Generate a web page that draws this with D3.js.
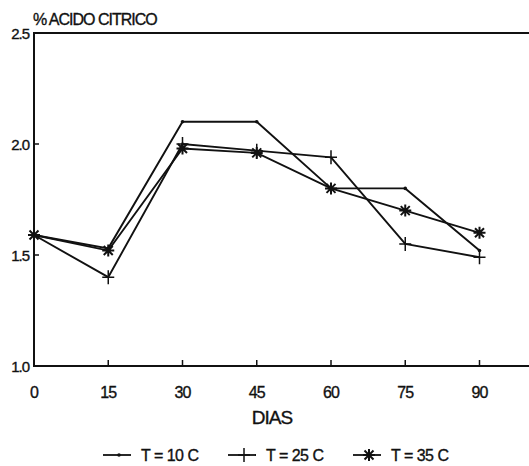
<!DOCTYPE html>
<html>
<head>
<meta charset="utf-8">
<script src="https://cdn.jsdelivr.net/npm/d3@7"></script>
<style>
  body { margin: 0; background: #fff; }
  text { font-family: "Liberation Sans", Arial, sans-serif; fill: #111; stroke: #111; stroke-width: 0.35px; }
</style>
</head>
<body>
<script>
// days and citric acid % per temperature
var dias = [0, 15, 30, 45, 60, 75, 90];
var t10 = [1.59, 1.53, 2.10, 2.10, 1.80, 1.80, 1.52];
var t25 = [1.59, 1.40, 2.00, 1.97, 1.94, 1.55, 1.49];
var t35 = [1.59, 1.52, 1.98, 1.96, 1.80, 1.70, 1.60];
var yTicks = [1.0, 1.5, 2.0, 2.5];
var series = [
    {name: "T = 10 C", values: t10, mark: "dot"},
    {name: "T = 25 C", values: t25, mark: "plus"},
    {name: "T = 35 C", values: t35, mark: "star"}
];

var W = 529, H = 466;
var svg = d3.select("body").append("svg")
    .attr("width", W).attr("height", H);

var x = d3.scaleLinear().domain([0, 100]).range([34, 529]);
var y = d3.scaleLinear().domain([1.0, 2.5]).range([366, 33]);

var ink = "#111";

// frame: left, top, bottom
svg.append("path")
    .attr("d", "M" + x(100) + "," + y(2.5) + "H" + x(0) + "V" + y(1.0) + "H" + x(100))
    .attr("fill", "none").attr("stroke", ink).attr("stroke-width", 2);

// y ticks point inward
svg.selectAll(".yt").data(yTicks).enter().append("line")
    .attr("x1", x(0)).attr("x2", x(0) + 5)
    .attr("y1", function (d) { return y(d); })
    .attr("y2", function (d) { return y(d); })
    .attr("stroke", ink).attr("stroke-width", 1.5);
svg.selectAll(".yl").data(yTicks).enter().append("text")
    .attr("x", x(0) - 5)
    .attr("y", function (d) { return y(d) + 6; })
    .attr("text-anchor", "end")
    .style("font-size", "15px")
    .style("letter-spacing", "-1px")
    .text(function (d) { return d.toFixed(1); });

// x ticks point up
svg.selectAll(".xt").data(dias).enter().append("line")
    .attr("x1", function (d) { return x(d); })
    .attr("x2", function (d) { return x(d); })
    .attr("y1", y(1.0)).attr("y2", y(1.0) - 6)
    .attr("stroke", ink).attr("stroke-width", 1.5);
svg.selectAll(".xl").data(dias).enter().append("text")
    .attr("x", function (d) { return x(d); })
    .attr("y", 398)
    .attr("text-anchor", "middle")
    .style("font-size", "16px")
    .style("letter-spacing", "-1px")
    .text(function (d) { return d; });

svg.append("text")
    .attr("x", 272).attr("y", 424)
    .attr("text-anchor", "middle")
    .style("font-size", "19px")
    .style("letter-spacing", "-1px")
    .text("DIAS");

svg.append("text")
    .attr("x", 33).attr("y", 25)
    .style("font-size", "16px")
    .style("letter-spacing", "-1px")
    .text("% ACIDO CITRICO");

function drawMark(g, kind, cx, cy) {
    if (kind === "dot") {
        g.append("circle").attr("cx", cx).attr("cy", cy).attr("r", 1.8).attr("fill", ink);
    } else if (kind === "plus") {
        g.append("path")
            .attr("d", "M" + (cx - 6) + "," + cy + "H" + (cx + 6) + "M" + cx + "," + (cy - 7) + "V" + (cy + 7))
            .attr("stroke", ink).attr("stroke-width", 1.5);
    } else {
        var r = 6, a = 4.5;
        g.append("path")
            .attr("d", "M" + (cx - r) + "," + cy + "H" + (cx + r) +
                "M" + cx + "," + (cy - r) + "V" + (cy + r) +
                "M" + (cx - a) + "," + (cy - a) + "L" + (cx + a) + "," + (cy + a) +
                "M" + (cx - a) + "," + (cy + a) + "L" + (cx + a) + "," + (cy - a))
            .attr("stroke", ink).attr("stroke-width", 2);
    }
}

var line = d3.line()
    .x(function (d, i) { return x(dias[i]); })
    .y(function (d) { return y(d); });

series.forEach(function (s) {
    var g = svg.append("g");
    g.append("path").attr("d", line(s.values))
        .attr("fill", "none").attr("stroke", ink).attr("stroke-width", 1.9);
    s.values.forEach(function (v, i) { drawMark(g, s.mark, x(dias[i]), y(v)); });
});

// legend
var legX = [103, 228, 353];
series.forEach(function (s, i) {
    var g = svg.append("g");
    var ly = 455;
    g.append("line").attr("x1", legX[i]).attr("x2", legX[i] + 28)
        .attr("y1", ly).attr("y2", ly)
        .attr("stroke", ink).attr("stroke-width", 1.8);
    drawMark(g, s.mark, legX[i] + 16, ly);
    g.append("text").attr("x", legX[i] + 38).attr("y", ly + 6)
        .style("font-size", "16px")
        .style("letter-spacing", "-0.5px")
        .text(s.name);
});
</script>
</body>
</html>
